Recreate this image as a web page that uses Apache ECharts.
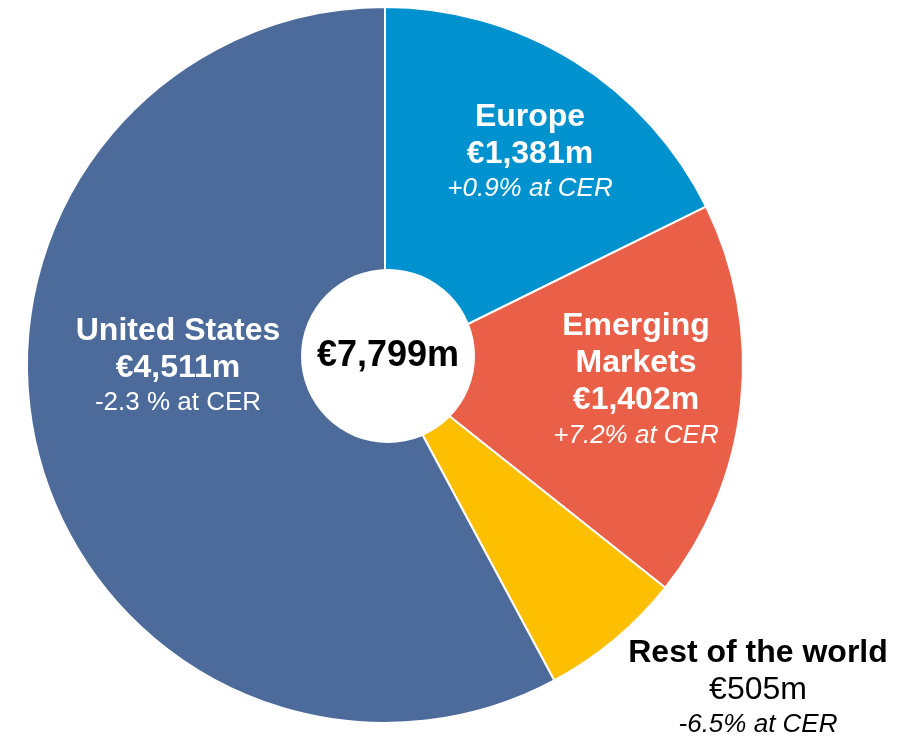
<!DOCTYPE html>
<html>
<head>
<meta charset="utf-8">
<script src="https://cdn.jsdelivr.net/npm/echarts@6/dist/echarts.min.js"></script>
<style>
  html, body { margin: 0; padding: 0; background: #fff; }
  #chart { width: 917px; height: 736px; }
</style>
</head>
<body>
<div id="chart"></div>
<script>
// regions, clockwise from 12 o'clock
const regions = ['Europe', 'Emerging Markets', 'Rest of the world', 'United States']
const sales = [1381, 1402, 505, 4511] // €m
const changes = ['+0.9% at CER', '+7.2% at CER', '-6.5% at CER', '-2.3 % at CER']
const colors = ['#0091cf', '#e95f47', '#fdbf00', '#4c6b9a']

// label block centres (px)
const labelPos = [[530, 152], [636, 380], [758, 688], [178, 366]]

const total = sales.reduce((a, b) => a + b, 0)
const euro = (v) => '€' + v.toLocaleString('en-US') + 'm'

const FONT = '"Liberation Sans", Arial, sans-serif'

const richFor = (i) => {
  const dark = i === 2
  const c = dark ? '#000' : '#fff'
  return {
    n: { color: c, fontFamily: FONT, fontWeight: 'bold', fontSize: 32, lineHeight: 37 },
    v: { color: c, fontFamily: FONT, fontWeight: dark ? 'normal' : 'bold', fontSize: 32, lineHeight: 37 },
    c: { color: c, fontFamily: FONT, fontStyle: i === 3 ? 'normal' : 'italic', fontSize: 26, lineHeight: 33 },
  }
}

const pieData = regions.map((name, i) => ({
  name,
  value: sales[i],
  itemStyle: { color: colors[i] },
  label: { rich: richFor(i) },
}))

const chart = echarts.init(document.getElementById('chart'))

chart.setOption({
  animation: false,
  series: [
    {
      type: 'pie',
      center: [385, 365],
      radius: [0, 358],
      startAngle: 90,
      clockwise: true,
      itemStyle: { borderColor: '#fff', borderWidth: 2 },
      label: {
        show: true,
        position: 'inside',
        formatter: (p) => {
          const i = p.dataIndex
          const name = p.name === 'Emerging Markets' ? '{n|Emerging}\n{n|Markets}' : '{n|' + p.name + '}'
          return name + '\n{v|' + euro(p.value) + '}\n{c|' + changes[i] + '}'
        },
      },
      labelLine: { show: false },
      labelLayout: (params) => ({
        x: labelPos[params.dataIndex][0],
        y: labelPos[params.dataIndex][1],
        align: 'center',
        verticalAlign: 'middle',
      }),
      emphasis: { disabled: true },
      data: pieData,
    },
    {
      // white hub with total
      type: 'pie',
      silent: true,
      center: [388, 356],
      radius: [0, 87],
      itemStyle: { color: '#fff' },
      label: {
        show: true,
        position: 'center',
        formatter: () => euro(total),
        color: '#000',
        fontFamily: FONT,
        fontWeight: 'bold',
        fontSize: 36,
      },
      labelLine: { show: false },
      data: [{ name: 'Total', value: total }],
    },
  ],
})
</script>
</body>
</html>
